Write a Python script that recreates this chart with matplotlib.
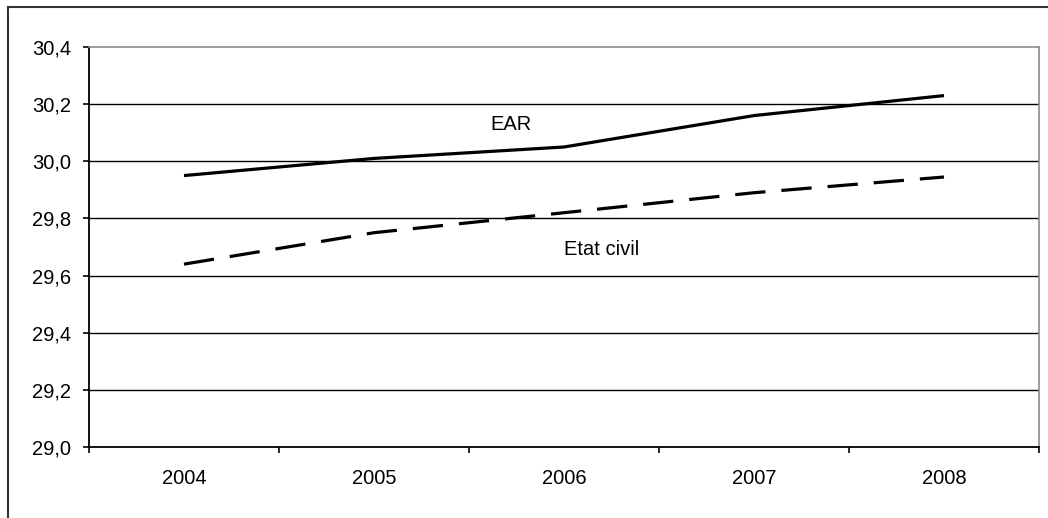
import matplotlib
matplotlib.use('Agg')
import matplotlib.pyplot as plt
from matplotlib.lines import Line2D
import numpy as np

years = ['2004', '2005', '2006', '2007', '2008']
ear = [29.95, 30.01, 30.05, 30.16, 30.23]
etat_civil = [29.64, 29.75, 29.82, 29.89, 29.945]
yticks = [29.0, 29.2, 29.4, 29.6, 29.8, 30.0, 30.2, 30.4]

plt.rcParams['font.family'] = ['Liberation Sans', 'DejaVu Sans']
FS = 14.5

W, H = 1048, 518
fig = plt.figure(figsize=(W / 100, H / 100), dpi=100)
ax = fig.add_axes([89 / W, 1 - 447 / H, (1039 - 89) / W, (447 - 47) / H])

x = np.arange(len(years))
ax.plot(x, ear, color='black', lw=2.3, solid_capstyle='butt', zorder=3)
ax.plot(x, etat_civil, color='black', lw=2.3, dashes=(9.5, 5), dash_capstyle='butt', zorder=3)

ax.text(1.72, 30.127, 'EAR', ha='center', va='center', fontsize=FS)
ax.text(2.2, 29.69, 'Etat civil', ha='center', va='center', fontsize=FS)

ax.set_xlim(-0.5, len(years) - 0.5)
ax.set_ylim(29.0, 30.4)
ax.set_yticks(yticks)
ax.set_yticklabels([f'{v:.1f}'.replace('.', ',') for v in yticks], fontsize=FS)
ax.set_xticks(x)
ax.set_xticklabels(years, fontsize=FS)
ax.set_xticks(np.arange(-0.5, len(years)), minor=True)

# gridlines (black, except the top one which is the plot border)
for v in yticks[1:-1]:
    ax.axhline(v, color='black', lw=1.0, zorder=1)

ax.tick_params(axis='y', direction='out', length=4, width=1.2, pad=9, color='black')
ax.tick_params(axis='x', which='major', length=0, pad=16)
ax.tick_params(axis='x', which='minor', direction='out', length=4, width=1.2)

ax.spines['left'].set_color('black')
ax.spines['left'].set_linewidth(1.3)
ax.spines['bottom'].set_color('black')
ax.spines['bottom'].set_linewidth(1.3)
ax.spines['top'].set_color('#8c8c8c')
ax.spines['top'].set_linewidth(1.2)
ax.spines['right'].set_color('#8c8c8c')
ax.spines['right'].set_linewidth(1.2)

# outer chart frame (cut off at right and bottom)
fig.add_artist(Line2D([8 / W, 8 / W], [1 - 7 / H, 0], transform=fig.transFigure, color='#333333', lw=1.5))
fig.add_artist(Line2D([8 / W, 1], [1 - 7 / H, 1 - 7 / H], transform=fig.transFigure, color='#333333', lw=1.5))

fig.savefig('out.png', dpi=100, facecolor='white')
